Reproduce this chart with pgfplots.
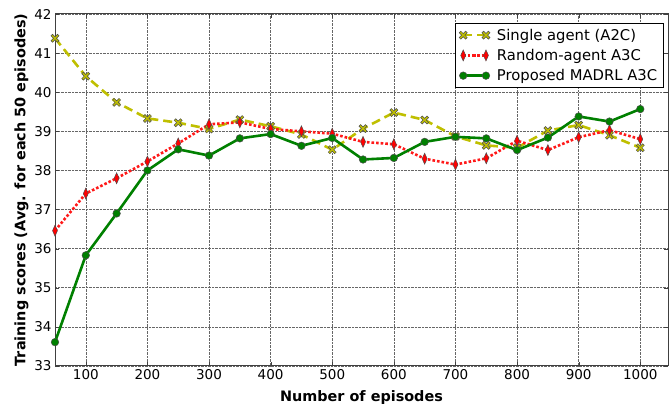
\documentclass[border=0pt]{standalone}
\usepackage{pgfplots}
\pgfplotsset{compat=1.18}
\usepackage{fontspec}
\setmainfont{DejaVu Sans}
\definecolor{my}{rgb}{0.75,0.75,0}
\definecolor{mg}{rgb}{0,0.5,0}
\pgfdeclareplotmark{Xf}{%
  \pgfpathmoveto{\pgfqpoint{-1\pgfplotmarksize}{-0.6\pgfplotmarksize}}%
  \pgfpathlineto{\pgfqpoint{-0.4\pgfplotmarksize}{0pt}}%
  \pgfpathlineto{\pgfqpoint{-1\pgfplotmarksize}{0.6\pgfplotmarksize}}%
  \pgfpathlineto{\pgfqpoint{-0.6\pgfplotmarksize}{1\pgfplotmarksize}}%
  \pgfpathlineto{\pgfqpoint{0pt}{0.4\pgfplotmarksize}}%
  \pgfpathlineto{\pgfqpoint{0.6\pgfplotmarksize}{1\pgfplotmarksize}}%
  \pgfpathlineto{\pgfqpoint{1\pgfplotmarksize}{0.6\pgfplotmarksize}}%
  \pgfpathlineto{\pgfqpoint{0.4\pgfplotmarksize}{0pt}}%
  \pgfpathlineto{\pgfqpoint{1\pgfplotmarksize}{-0.6\pgfplotmarksize}}%
  \pgfpathlineto{\pgfqpoint{0.6\pgfplotmarksize}{-1\pgfplotmarksize}}%
  \pgfpathlineto{\pgfqpoint{0pt}{-0.4\pgfplotmarksize}}%
  \pgfpathlineto{\pgfqpoint{-0.6\pgfplotmarksize}{-1\pgfplotmarksize}}%
  \pgfpathclose
  \pgfusepathqfillstroke}
\begin{document}
\begin{tikzpicture}
\begin{axis}[
  name=ax,
  scale only axis,
  width=613pt, height=352pt,
  xmin=50, xmax=1045, ymin=33, ymax=42,
  xtick={100,200,...,1000}, ytick={33,34,...,42},
  grid=major,
  grid style={densely dotted, black!60, line width=0.6pt},
  axis line style={line width=1pt, black!75},
  tick style={black!75},
  tick align=inside,
  ticklabel style={font=\fontsize{13.5}{15}\selectfont},
  /pgf/number format/assume math mode=true,
  /pgf/number format/1000 sep={},
  xlabel={\textbf{Number of episodes}},
  ylabel={\textbf{Training scores (Avg. for each 50 episodes)}},
  label style={font=\fontsize{14.4}{16}\selectfont},
  xlabel style={yshift=-4pt},
  ylabel style={yshift=-1pt},
  legend style={font=\fontsize{14.8}{17}\selectfont, draw=black, line width=1pt, rounded corners=0pt, inner xsep=4pt, inner ysep=3.5pt, row sep=3.5pt, at={(0.993,0.975)}, anchor=north east, /tikz/every odd column/.append style={column sep=5pt}},
  legend cell align=left,
  legend image code/.code={\draw[mark repeat=2,mark phase=1,#1] plot coordinates {(0.05cm,0cm) (0.45cm,0cm) (0.85cm,0cm)};},
]
\addplot[my, line width=2.6pt, dash pattern=on 9pt off 5pt, mark=Xf, mark size=4pt, mark options={solid, fill=my, draw=black!70, line width=0.5pt}]
coordinates {(50,41.38) (100,40.41) (150,39.74) (200,39.33) (250,39.22) (300,39.06) (350,39.30) (400,39.13) (450,38.92) (500,38.53) (550,39.07) (600,39.48) (650,39.29) (700,38.87) (750,38.64) (800,38.58) (850,39.02) (900,39.16) (950,38.90) (1000,38.58)};
\addlegendentry{Single agent (A2C)}
\addplot[red!90, line width=2.6pt, dotted, mark=diamond*, mark size=5.5pt, mark options={solid, fill=red, draw=black!70, line width=0.5pt, xscale=0.6}]
coordinates {(50,36.46) (100,37.41) (150,37.80) (200,38.23) (250,38.69) (300,39.18) (350,39.23) (400,39.06) (450,39.00) (500,38.94) (550,38.73) (600,38.67) (650,38.30) (700,38.15) (750,38.31) (800,38.76) (850,38.52) (900,38.85) (950,39.03) (1000,38.80)};
\addlegendentry{Random-agent A3C}
\addplot[mg, line width=2.6pt, mark=*, mark size=3.8pt, mark options={fill=mg, draw=black!70, line width=0.5pt}]
coordinates {(50,33.61) (100,35.83) (150,36.90) (200,38.00) (250,38.54) (300,38.38) (350,38.82) (400,38.93) (450,38.63) (500,38.83) (550,38.28) (600,38.32) (650,38.73) (700,38.86) (750,38.82) (800,38.52) (850,38.84) (900,39.38) (950,39.25) (1000,39.57)};
\addlegendentry{Proposed MADRL A3C}
\end{axis}
\pgfresetboundingbox
\path ([xshift=-55pt,yshift=-41pt]ax.south west) rectangle ([xshift=1pt,yshift=14pt]ax.north east);
\end{tikzpicture}
\end{document}
